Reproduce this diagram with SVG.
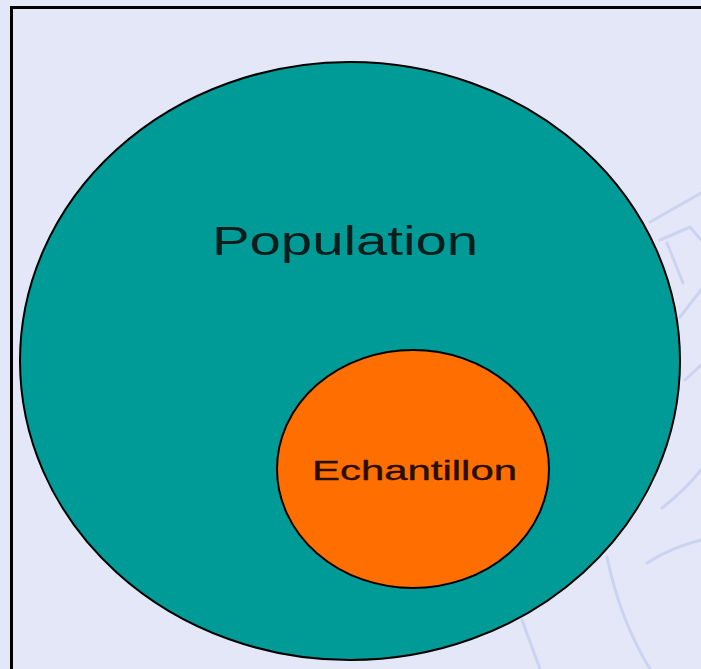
<svg xmlns="http://www.w3.org/2000/svg" width="701" height="669" viewBox="0 0 701 669">
  <style>
    .bg { fill: #e3e7f8; }
    .frame { fill: none; stroke: #000; stroke-width: 3; }
    .sketch { fill: none; stroke: #ccd3f0; stroke-width: 3; stroke-linecap: round; }
    .node { stroke: #000; stroke-width: 2; }
    .lbl { font-family: "Liberation Sans", Arial, sans-serif; }
  </style>
  <rect class="bg" x="0" y="0" width="701" height="669"/>
  <rect class="frame" x="11.5" y="7.5" width="720" height="700"/>
  <g id="background-sketch">
    <path class="sketch" d="M650 222 L701 193"/>
    <path class="sketch" d="M660 240 L690 227 L701 240"/>
    <path class="sketch" d="M667 243 L683 283"/>
    <path class="sketch" d="M680 317 L701 290"/>
    <path class="sketch" d="M685 380 L701 365"/>
    <path class="sketch" d="M662 508 Q685 490 701 470"/>
    <path class="sketch" d="M647 563 Q670 548 701 540"/>
    <path class="sketch" d="M607 557 Q620 620 650 669"/>
    <path class="sketch" d="M522 620 L540 669"/>
  </g>
  <g id="population">
    <ellipse class="node" cx="350" cy="361" rx="330" ry="299" fill="#009b96"/>
    <text class="lbl" x="212" y="255" font-size="41" textLength="266" lengthAdjust="spacingAndGlyphs" fill="#0a1d1d">Population</text>
  </g>
  <g id="echantillon">
    <ellipse class="node" cx="413" cy="469" rx="136" ry="119" fill="#ff6e00"/>
    <text class="lbl" x="312" y="480" font-size="28" textLength="205" lengthAdjust="spacingAndGlyphs" fill="#2a0e00" stroke="#2a0e00" stroke-width="0.4">Echantillon</text>
  </g>
  <g id="connectors"/>
</svg>
